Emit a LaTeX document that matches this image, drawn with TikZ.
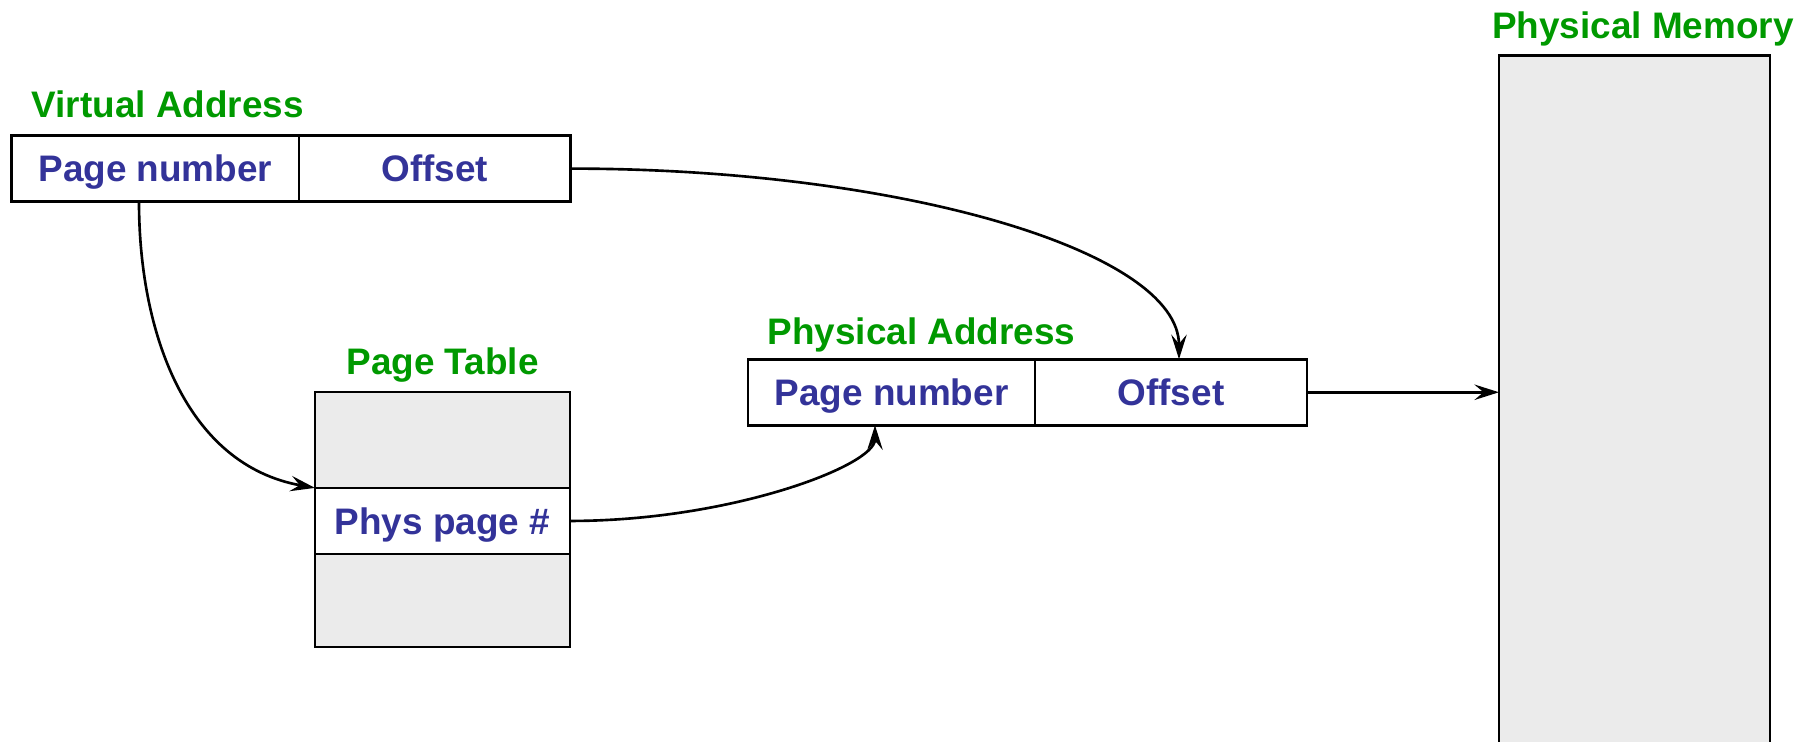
\documentclass[tikz,border=0pt]{standalone}
\usepackage{fontspec}
\setmainfont{Liberation Sans}
\usepackage{xcolor}
\usepackage{tikz}
\usetikzlibrary{
  arrows.meta,
  positioning
}
\definecolor{labelgreen}{RGB}{0,153,0}
\definecolor{cellblue}{RGB}{51,51,153}
\definecolor{memgray}{RGB}{235,235,235}
\tikzset{
  title/.style={
    font=\bfseries\fontsize{10.5}{12}\selectfont,
    text=labelgreen,
    inner sep=0pt,
    anchor=base},
  cell/.style={
    draw,
    line width=0.75pt,
    outer sep=0pt,
    inner sep=0pt,
    minimum height=0.661cm,
    text height=7.5pt,
    text depth=0pt,
    font=\bfseries\fontsize{10.5}{12}\selectfont,
    text=cellblue},
  slot/.style={
    draw,
    fill=memgray,
    line width=0.75pt,
    outer sep=0pt,
    inner sep=0pt,
    minimum width=2.55cm},
  map/.style={
    line width=0.75pt,
    -{Stealth[length=7pt,width=4.4pt,inset=2.6pt]}}
  }

\begin{document}
\begin{tikzpicture}
  \useasboundingbox (0,0) rectangle (18.18,7.41);
  \node[title, anchor=base west] (vatitle) at (0.31,6.24) {Virtual Address};
  \node[cell, minimum width=2.874cm, anchor=west] (vapage) at (0.116,5.724) {Page number};
  \node[cell, minimum width=2.714cm, right=0pt of vapage] (vaoff) {Offset};
  \node[slot, minimum height=0.93cm, anchor=south west] (ptlow) at (3.15,0.94) {};
  \node[cell, minimum width=2.55cm, above=0pt of ptlow] (ptphys) {Phys page \#};
  \node[slot, minimum height=0.96cm, above=0pt of ptphys] (pthigh) {};
  \node[title] (pttitle) at (4.425,3.665) {Page Table};
  \node[title, anchor=base west] (patitle) at (7.67,3.97) {Physical Address};
  \node[cell, minimum width=2.87cm, anchor=west] (papage) at (7.48,3.4875) {Page number};
  \node[cell, minimum width=2.72cm, right=0pt of papage] (paoff) {Offset};
  \node[title] (pmtitle) at (16.43,7.03) {Physical Memory};
  \node[fill=memgray, minimum width=2.71cm, minimum height=6.904cm,
    inner sep=0pt, outer sep=0pt, anchor=south west] (pm) at (14.99,-0.05) {};
  \draw [line width=0.75pt]
    (pm.south west) -- (pm.north west) -- (pm.north east) -- (pm.south east);
  \draw [map]
    ([xshift=-0.163cm]vapage.south) .. controls +(0,-1.31) and +(-1.29,0.23) .. (pthigh.south west);
  \draw [map]
    (vaoff.east) .. controls +(3.3,0) and +(0,1.08) .. ([xshift=0.08cm]paoff.north);
  \draw [map]
    (ptphys.east) .. controls +(1.6,0) and +(0,-0.405) .. ([xshift=-0.165cm]papage.south);
  \draw [map] (paoff.east) -- (paoff.east -| pm.west);
\end{tikzpicture}
\end{document}
